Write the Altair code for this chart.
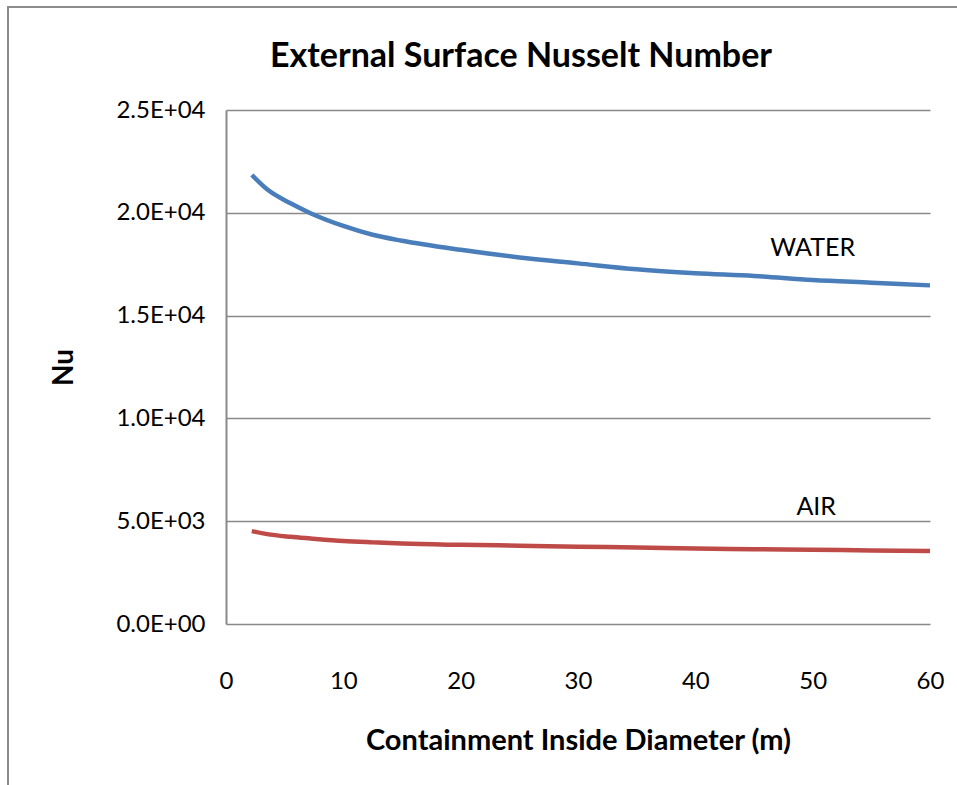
import altair as alt
import pandas as pd

# Containment inside diameter (m)
diameter = [2.2, 3.5, 5.5, 7.2, 10, 12.5, 15, 20, 25, 30, 35, 40, 45, 50, 55, 60]
# External surface Nusselt number
nu_water = [21840, 21140, 20460, 19980, 19360, 18930, 18640, 18200, 17830, 17540,
            17250, 17060, 16930, 16730, 16600, 16470]
nu_air = [4520, 4370, 4240, 4160, 4040, 3970, 3910, 3850, 3810, 3760,
          3720, 3670, 3640, 3610, 3580, 3550]

label_text = ["WATER", "AIR"]
label_x = [50, 50.3]
label_y = [17900, 5300]

FONT = "Lato"
GRID = "#898989"

df = pd.DataFrame(
    {"D": diameter * 2,
     "Nu": nu_water + nu_air,
     "series": ["WATER"] * len(diameter) + ["AIR"] * len(diameter)}
)
labels = pd.DataFrame({"text": label_text, "x": label_x, "y": label_y})

xscale = alt.Scale(domain=[0, 60], nice=False)
yscale = alt.Scale(domain=[0, 25000], nice=False)

frame = alt.Chart(pd.DataFrame({"a": [0]})).mark_rect(
    fill=None, stroke="#8c8c8c", strokeWidth=2
).encode(
    x=alt.value(-218), x2=alt.value(800),
    y=alt.value(-103), y2=alt.value(720),
)

lines = alt.Chart(df).mark_line(strokeWidth=4.5, interpolate="monotone").encode(
    x=alt.X("D:Q", scale=xscale,
            axis=alt.Axis(title="Containment Inside Diameter (m)",
                          values=[0, 10, 20, 30, 40, 50, 60],
                          grid=False, ticks=False, domain=False, labelFlush=False,
                          labelFont=FONT, labelFontSize=24, labelColor="#000000",
                          labelPadding=45,
                          titleFont=FONT, titleFontSize=29, titleFontWeight="bold",
                          titleColor="#000000", titlePadding=33)),
    y=alt.Y("Nu:Q", scale=yscale,
            axis=alt.Axis(title="Nu",
                          values=[0, 5000, 10000, 15000, 20000, 25000],
                          labelExpr="substring(format(datum.value, '.1e'), 0, 3) + 'E+0' + substring(format(datum.value, '.1e'), 5)",
                          grid=True, gridColor=GRID, gridWidth=1.6, labelFlush=False,
                          ticks=False, domain=True, domainColor=GRID, domainWidth=2,
                          labelFont=FONT, labelFontSize=24, labelColor="#000000",
                          labelPadding=21,
                          titleFont=FONT, titleFontSize=28, titleFontWeight="bold",
                          titleColor="#000000", titleAngle=-90,
                          titleX=-154, titleY=257, titleAlign="center",
                          titleBaseline="alphabetic")),
    color=alt.Color("series:N",
                    scale=alt.Scale(domain=["WATER", "AIR"],
                                    range=["#4A7EBB", "#BE4B48"]),
                    legend=None),
)

texts = alt.Chart(labels).mark_text(
    font=FONT, fontSize=25, color="#000000", baseline="alphabetic", align="center"
).encode(
    x=alt.X("x:Q", scale=xscale),
    y=alt.Y("y:Q", scale=yscale),
    text="text:N",
)

chart = alt.layer(frame, lines, texts).properties(
    width=704, height=514,
    title=alt.TitleParams("External Surface Nusselt Number", font=FONT,
                          fontSize=34, fontWeight="bold", color="#000000",
                          anchor="middle", baseline="alphabetic",
                          dx=-57, dy=95, offset=0),
    autosize=alt.AutoSizeParams(type="none"),
    padding={"left": 226, "top": 110, "right": 27, "bottom": 161},
    background="#ffffff",
).configure_view(stroke=None)

chart.save("out.html", embed_options={"renderer": "svg", "actions": False})
